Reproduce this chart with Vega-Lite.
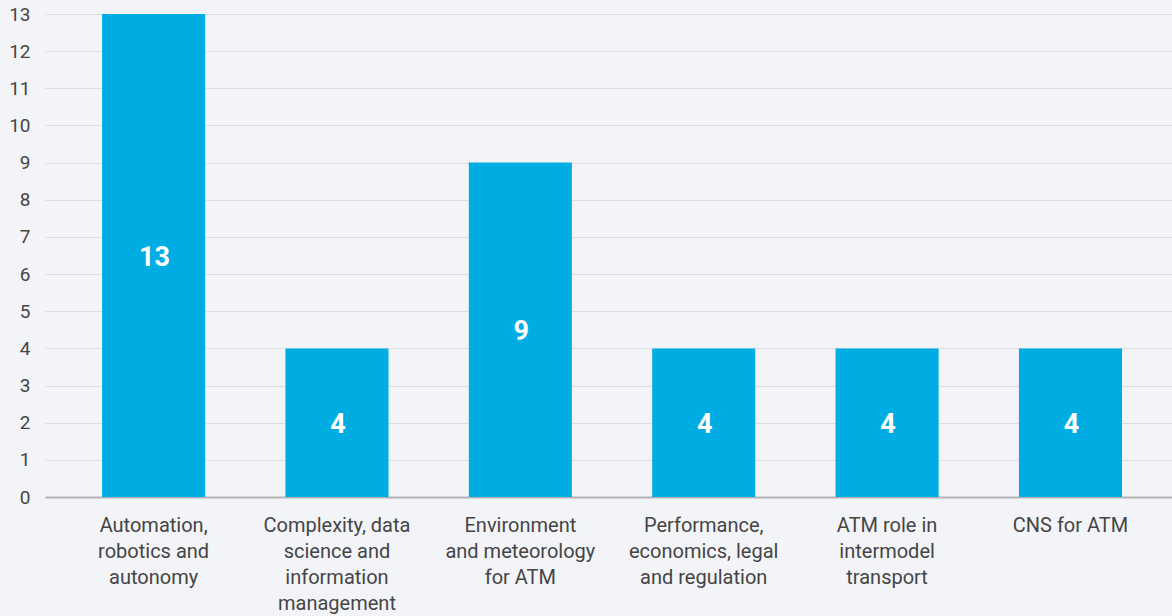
{
  "$schema": "https://vega.github.io/schema/vega-lite/v6.json",
  "width": 1127,
  "height": 483,
  "autosize": {"type": "none"},
  "padding": {"left": 45, "top": 14, "right": 0, "bottom": 119},
  "background": "#f3f4f8",
  "config": {"view": {"stroke": null}, "font": "Roboto"},
  "data": {
    "values": [
      {"topic": "Automation,|robotics and|autonomy", "count": 13},
      {"topic": "Complexity, data|science and|information|management", "count": 4},
      {"topic": "Environment|and meteorology|for ATM", "count": 9},
      {"topic": "Performance,|economics, legal|and regulation", "count": 4},
      {"topic": "ATM role in|intermodel|transport", "count": 4},
      {"topic": "CNS for ATM", "count": 4}
    ]
  },
  "encoding": {
    "x": {
      "field": "topic",
      "type": "nominal",
      "sort": null,
      "scale": {"paddingInner": 0.438, "paddingOuter": 0.292, "align": 0.533},
      "axis": {
        "title": null,
        "labelAngle": 0,
        "labelExpr": "split(datum.label, '|')",
        "labelFontSize": 20,
        "labelColor": "#454545",
        "labelLineHeight": 26,
        "labelPadding": 18,
        "labelBaseline": "top",
        "ticks": false,
        "domainColor": "#b3b3b6",
        "domainWidth": 2,
        "labelLimit": 400
      }
    }
  },
  "layer": [
    {
      "mark": {"type": "bar", "color": "#00ade3"},
      "encoding": {
        "y": {
          "field": "count",
          "type": "quantitative",
          "scale": {"domain": [0, 13], "nice": false},
          "axis": {
            "title": null,
            "values": [0,1,2,3,4,5,6,7,8,9,10,11,12,13],
            "labelFontSize": 19,
            "labelColor": "#454545",
            "labelPadding": 15,
            "ticks": false,
            "domain": false,
            "gridColor": "#dcdde2",
            "gridWidth": 1.2
          }
        }
      }
    },
    {
      "mark": {"type": "text", "color": "white", "fontWeight": "bold", "fontSize": 27, "baseline": "middle", "dy": 2, "dx": 1},
      "encoding": {
        "y": {
          "field": "count",
          "type": "quantitative",
          "scale": {"domain": [0, 26], "nice": false},
          "axis": null
        },
        "text": {"field": "count", "type": "quantitative"}
      }
    }
  ],
  "resolve": {"scale": {"y": "independent"}}
}
